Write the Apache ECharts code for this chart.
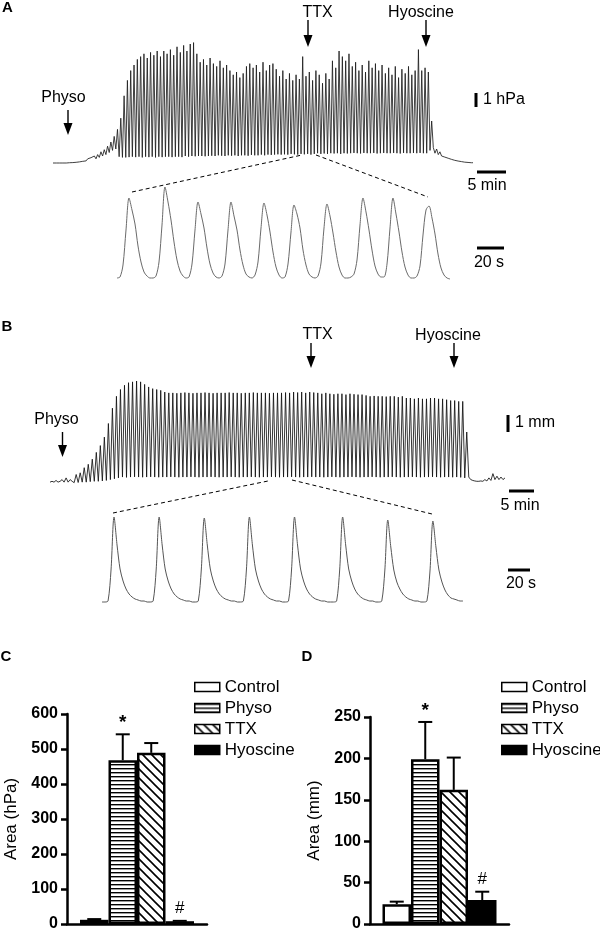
<!DOCTYPE html>
<html><head><meta charset="utf-8">
<script src="https://cdn.jsdelivr.net/npm/echarts@6/dist/echarts.min.js"></script>
<style>html,body{margin:0;padding:0;background:#fff}#c{width:600px;height:932px}</style>
</head><body><div id="c"></div>
<script>
// ---------- Panel A: main trace (hPa) ----------
const tracePreA = [0,0,0,0,0,0,0,0,0,0.02,0.02,0.03,0.03,0.05,0.05,0.07,0.08,0.1,
  0.12,0.25,0.15,0.3,0.2,0.38,0.25,0.5,0.3,0.6,0.4,0.8,0.5,0.95,0.6,1.2,0.75,1.5,0.9,1.9,1.0,2.4];
const peaksA = [3.2,4.8,5.9,6.6,7.0,7.4,7.6,7.8,7.5,7.9,
  7.7,8.0,7.6,8.0,7.8,8.1,7.7,8.3,7.9,8.4,
  8.0,8.5,8.6,7.8,7.2,7.4,7.0,7.5,7.1,6.9,
  7.3,6.8,7.0,6.6,6.3,6.5,6.1,6.4,6.9,7.1,
  6.8,7.0,6.5,7.2,6.6,7.0,7.1,6.7,6.2,6.6,
  6.0,6.4,5.9,6.3,6.0,7.6,6.2,6.5,5.9,6.6,
  6.3,5.7,6.4,6.0,7.3,6.8,8.0,7.6,7.3,7.8,
  6.9,7.2,6.6,7.0,6.5,7.3,6.8,7.1,6.6,7.0,
  6.4,6.8,6.3,6.9,6.1,6.7,6.4,6.9,6.3,6.6,
  8.1,6.6,6.8,6.5,3.0];
const troughsA = [0.45,0.4,0.4,0.42,0.45,0.42,0.45,0.4,0.45,0.42,
  0.45,0.4,0.45,0.42,0.45,0.45,0.42,0.45,0.45,0.42,
  0.5,0.45,0.5,0.48,0.5,0.5,0.48,0.5,0.52,0.5,
  0.55,0.52,0.5,0.55,0.52,0.55,0.5,0.55,0.55,0.52,
  0.58,0.55,0.55,0.6,0.55,0.6,0.58,0.6,0.62,0.6,
  0.62,0.6,0.65,0.62,0.6,0.65,0.62,0.65,0.6,0.65,
  0.7,0.65,0.68,0.65,0.7,0.68,0.7,0.65,0.7,0.68,
  0.7,0.72,0.7,0.68,0.72,0.7,0.7,0.72,0.68,0.7,
  0.72,0.7,0.7,0.72,0.7,0.68,0.72,0.7,0.7,0.72,
  0.7,0.72,0.7,0.7,0.9];
const tracePostA = [1.1,0.7,1.0,0.6,0.8,0.5,0.6,0.42,0.38,0.34,0.3,0.26,0.22,0.19,0.16,0.14,0.12,0.1,0.08,0.06,0.05,0.04,0.03,0.02,0.02];
// Panel A inset (expanded segment, relative units)
const insetA = [2,3,15,50,82,70,56,34,18,8,
  4,2,2,4,18,55,93,78,60,38,
  20,9,4,2,3,16,50,78,66,52,
  32,16,7,3,2,4,16,50,78,64,
  50,30,15,6,3,2,5,18,52,77,
  65,48,28,13,5,2,3,16,48,75,
  66,52,30,15,6,3,2,4,17,52,
  76,64,47,28,13,5,2,2,3,6,
  20,55,82,68,50,30,14,6,3,3,
  16,52,82,66,48,28,13,5,2,2,
  4,14,45,70,74,62,46,26,12,5,
  2,1];

// ---------- Panel B: main trace (mm) ----------
const tracePreB = [0.05,0.1,0.05,0.15,0.05,0.1,0.2,0.05,0.3,0.05,0.2,0.1];
const peaksB = [0.5,0.6,0.9,1.1,1.4,1.8,2.2,2.7,3.5,4.4,5.1,
  5.5,5.75,5.9,5.95,6.0,5.95,5.8,5.65,5.55,5.5,5.45,5.35,5.3,
  5.3,5.28,5.3,5.32,5.3,5.28,5.3,5.3,5.32,5.3,5.28,5.3,5.3,5.3,5.32,5.3,5.3,5.28,5.3,5.3,5.32,5.3,5.3,5.3,5.28,5.3,5.3,5.3,5.32,5.3,5.35,5.32,5.35,5.3,5.35,5.32,5.3,
  5.25,5.3,5.25,5.22,5.25,5.25,5.2,5.25,5.22,5.2,5.2,
  5.15,5.1,5.12,5.1,5.1,5.08,5.1,5.1,5.05,5.1,5.0,
  5.0,4.95,5.0,4.95,4.95,5.0,5.0,4.95,4.95,4.9,
  4.85,4.85,4.8,4.8];
const troughsB = [0.02,0.03,0.05,0.05,0.08,0.1,0.1,0.12,0.15,0.2,0.25,
  0.3,0.35,0.33,0.35,0.36,0.35,0.34,0.35,0.36,0.35,0.34,0.35,0.35,
  0.36,0.35,0.34,0.35,0.35,0.36,0.35,0.34,0.35,0.35,0.36,0.35,0.34,0.35,0.35,0.36,0.35,0.34,0.35,0.35,0.36,0.35,0.34,0.35,0.35,0.36,0.35,0.34,0.35,0.35,0.36,0.35,0.34,0.35,0.35,0.36,0.35,
  0.35,0.34,0.35,0.36,0.35,0.34,0.35,0.35,0.36,0.35,0.34,
  0.35,0.35,0.36,0.35,0.34,0.35,0.35,0.36,0.35,0.34,0.35,
  0.35,0.36,0.35,0.34,0.35,0.35,0.36,0.35,0.34,0.35,
  0.35,0.34,0.35,0.33];
const tracePostB = [0.3,3.0,0.35,0.2,0.15,0.12,0.1,0.1,0.12,0.1,0.2,0.12,0.3,0.15,0.55,0.2,0.4,0.2,0.35,0.2,0.3];
const insetB = [3,3,4,35,88,
  60,36,24,16,11,8,6,5,4,4,3,3,4,35,88,
  60,36,24,16,11,8,6,5,4,4,3,3,4,35,87,
  60,36,24,16,11,8,6,5,4,4,3,3,4,35,88,
  60,36,24,16,11,8,6,5,4,4,3,3,4,35,88,
  60,36,24,16,11,8,6,5,4,4,3,3,3,4,35,88,
  60,36,24,16,11,8,6,5,4,4,3,3,4,34,85,
  58,35,23,16,11,8,6,5,4,4,3,3,4,33,84,
  58,35,23,15,10,7,6,5,4,4];

// ---------- Panels C & D: bar data ----------
const groups = ['Control','Physo','TTX','Hyoscine'];
const areaC = [12, 468, 489, 8];
const errC  = [2, 74, 28, 1];
const sigC  = ['', '*', '', '#'];
const areaD = [24, 199, 162, 29];
const errD  = [3, 45, 39, 10];
const sigD  = ['', '*', '', '#'];
const ticksC = {min:0, max:600, interval:100};
const ticksD = {min:0, max:250, interval:50};

// ---------- helpers ----------
const FONT = '"Liberation Sans", Arial, Helvetica, sans-serif';
function buildTrace(pre, troughs, peaks, post){
  const s = pre.slice();
  for (let i = 0; i < peaks.length; i++){ s.push(troughs[i]); s.push(peaks[i]); }
  return s.concat(post);
}
const pairs = arr => arr.map((v,i)=>[i,v]);
const traceA = buildTrace(tracePreA, troughsA, peaksA, tracePostA);
const traceB = buildTrace(tracePreB, troughsB, peaksB, tracePostB);

function makePattern(kind){
  const c = document.createElement('canvas');
  if (kind === 'h'){
    c.width = 8; c.height = 4;
    const g = c.getContext('2d');
    g.fillStyle = '#fff'; g.fillRect(0,0,8,4);
    g.fillStyle = '#000'; g.fillRect(0,0,8,1.4);
  } else {
    c.width = 9; c.height = 9;
    const g = c.getContext('2d');
    g.fillStyle = '#fff'; g.fillRect(0,0,9,9);
    g.strokeStyle = '#000'; g.lineWidth = 1.6;
    g.beginPath();
    g.moveTo(-2,-2); g.lineTo(11,11);
    g.moveTo(-11,-2); g.lineTo(2,11);
    g.moveTo(7,-2); g.lineTo(20,11);
    g.stroke();
  }
  return {image: c, repeat: 'repeat'};
}
const fills = ['#ffffff', makePattern('h'), makePattern('d'), '#000000'];

function txt(x, y, s, size, opts){
  opts = opts || {};
  return {type:'text', silent:true, style:{text:s, x:x, y:y,
    font:(opts.bold?'bold ':'') + size + 'px ' + FONT, fill:'#000',
    textAlign: opts.align || 'center', textVerticalAlign:'middle'}};
}
function arrow(x, y1, y2){
  return {type:'group', silent:true, children:[
    {type:'line', shape:{x1:x, y1:y1, x2:x, y2:y2-9}, style:{stroke:'#000', lineWidth:1.4}},
    {type:'polygon', shape:{points:[[x-4.5,y2-12],[x+4.5,y2-12],[x,y2]]}, style:{fill:'#000'}}
  ]};
}
function sbar(x1,y1,x2,y2){ return {type:'line', silent:true, shape:{x1:x1,y1:y1,x2:x2,y2:y2}, style:{stroke:'#000', lineWidth:3}}; }
function dash(x1,y1,x2,y2){ return {type:'line', silent:true, shape:{x1:x1,y1:y1,x2:x2,y2:y2}, style:{stroke:'#000', lineWidth:1, lineDash:[4,3]}}; }

const BW = 28.5;
function errRender(sigs){
  return function(params, api){
    const k = api.value(3), v = api.value(1), e = api.value(2);
    const p0 = api.coord([0, v]);
    const p1 = api.coord([0, v + e]);
    const x = p0[0] + (k - 1.5) * BW;
    const ch = [
      {type:'line', shape:{x1:x, y1:p0[1], x2:x, y2:p1[1]}, style:{stroke:'#000', lineWidth:2}},
      {type:'line', shape:{x1:x-7, y1:p1[1], x2:x+7, y2:p1[1]}, style:{stroke:'#000', lineWidth:2}}
    ];
    const s = sigs[params.dataIndex];
    if (s) ch.push({type:'text', style:{text:s, x:x, y:p1[1] - (s === '*' ? 2 : 4),
      font:(s === '*' ? 'bold 19px ' : '17px ') + FONT, fill:'#000', textAlign:'center', textVerticalAlign:'bottom'}});
    return {type:'group', children:ch};
  };
}

function barSeries(vals, axisIdx){
  return groups.map((g,k)=>({
    type:'bar', name:g, xAxisIndex:axisIdx, yAxisIndex:axisIdx, data:[vals[k]],
    barWidth:BW, barGap:'0%', silent:true,
    itemStyle:{color:fills[k], borderColor:'#000', borderWidth:2.5}
  }));
}
function errSeries(vals, errs, sigs, axisIdx){
  return {type:'custom', xAxisIndex:axisIdx, yAxisIndex:axisIdx, silent:true, z:5,
    data: vals.map((v,k)=>[0, v, errs[k], k]), renderItem: errRender(sigs)};
}
function barYAxis(t, grid, name){
  return {type:'value', gridIndex:grid, min:t.min, max:t.max, interval:t.interval,
    name:name, nameLocation:'middle', nameGap:47, nameRotate:90,
    nameTextStyle:{fontSize:17, fontFamily:FONT, color:'#000'},
    axisLine:{show:true, lineStyle:{color:'#000', width:2.5}},
    axisTick:{show:true, length:6, lineStyle:{color:'#000', width:2.5}},
    axisLabel:{fontSize:16, fontWeight:'bold', fontFamily:FONT, color:'#000', margin:9},
    splitLine:{show:false}};
}
function barXAxis(grid){
  return {type:'category', gridIndex:grid, data:['g'],
    axisLine:{show:true, lineStyle:{color:'#000', width:2.5}},
    axisTick:{show:false}, axisLabel:{show:false}};
}
function hidX(grid, n){ return {type:'value', gridIndex:grid, min:0, max:n-1, show:false}; }
function hidY(grid, mn, mx){ return {type:'value', gridIndex:grid, min:mn, max:mx, show:false}; }

const lineBase = {type:'line', symbol:'none', showSymbol:false, silent:true, animation:false};

const chart = echarts.init(document.getElementById('c'), null, {renderer:'canvas'});
chart.setOption({
  animation:false,
  grid:[
    {left:53, top:37, width:420, height:133},      // A main
    {left:117, top:180, width:333, height:100},    // A inset
    {left:50, top:370.8, width:455, height:119},   // B main
    {left:102, top:500, width:361, height:105},    // B inset
    {left:67, top:714, width:140, height:212},     // C
    {left:370, top:717, width:139, height:209}     // D
  ],
  xAxis:[hidX(0, traceA.length), hidX(1, insetA.length), hidX(2, traceB.length), hidX(3, insetB.length), barXAxis(4), barXAxis(5)],
  yAxis:[hidY(0,-0.5,9.0), hidY(1,0,100), hidY(2,-0.4,6.6), hidY(3,0,105),
    barYAxis(ticksC, 4, 'Area (hPa)'), barYAxis(ticksD, 5, 'Area (mm)')],
  legend:[
    {orient:'vertical', left:189, top:672, itemWidth:25, itemHeight:9, itemGap:1, icon:'rect',
      data:groups, selectedMode:false,
      itemStyle:{borderColor:'#000', borderWidth:1.5},
      textStyle:{fontSize:17, fontFamily:FONT, color:'#000', lineHeight:20}},
    {orient:'vertical', left:496, top:672, itemWidth:25, itemHeight:9, itemGap:1, icon:'rect',
      data:groups, selectedMode:false,
      itemStyle:{borderColor:'#000', borderWidth:1.5},
      textStyle:{fontSize:17, fontFamily:FONT, color:'#000', lineHeight:20}}
  ],
  series:[
    Object.assign({}, lineBase, {xAxisIndex:0, yAxisIndex:0, data:pairs(traceA), lineStyle:{color:'#1e1e1e', width:0.85, join:'bevel'}}),
    Object.assign({}, lineBase, {xAxisIndex:1, yAxisIndex:1, data:pairs(insetA), smooth:0.3, lineStyle:{color:'#6a6a6a', width:1}}),
    Object.assign({}, lineBase, {xAxisIndex:2, yAxisIndex:2, data:pairs(traceB), lineStyle:{color:'#111', width:0.85, join:'bevel'}}),
    Object.assign({}, lineBase, {xAxisIndex:3, yAxisIndex:3, data:pairs(insetB), smooth:0.3, lineStyle:{color:'#555', width:1}})
  ].concat(barSeries(areaC, 4), [errSeries(areaC, errC, sigC, 4)], barSeries(areaD, 5), [errSeries(areaD, errD, sigD, 5)]),
  graphic:[
    txt(7.5, 8, 'A', 15, {bold:true}),
    txt(7, 327, 'B', 15, {bold:true}),
    txt(6, 657, 'C', 15, {bold:true}),
    txt(307, 657, 'D', 15, {bold:true}),
    // Panel A annotations
    txt(63.5, 98, 'Physo', 16), arrow(68, 110, 135),
    txt(317.5, 12.5, 'TTX', 16), arrow(308, 20, 47),
    txt(421, 12.5, 'Hyoscine', 16), arrow(426, 20, 47),
    sbar(476, 93, 476, 107), txt(483, 100, '1 hPa', 16, {align:'left'}),
    sbar(477, 172, 506, 172), txt(487, 185.5, '5 min', 16),
    sbar(477, 248, 504, 248), txt(489, 263, '20 s', 16),
    dash(132, 192, 302, 155), dash(316, 155, 428, 197),
    // Panel B annotations
    txt(56.5, 420, 'Physo', 16), arrow(62.5, 432, 457),
    txt(317.5, 335, 'TTX', 16), arrow(311, 343, 368),
    txt(448, 336, 'Hyoscine', 16), arrow(454, 343, 368),
    sbar(508, 415, 508, 432), txt(515, 423, '1 mm', 16, {align:'left'}),
    sbar(509, 491, 534, 491), txt(520, 506, '5 min', 16),
    sbar(508, 570, 530, 570), txt(521, 584, '20 s', 16),
    dash(113, 513, 268, 481), dash(292, 480, 432, 514)
  ]
});
</script>
</body></html>
